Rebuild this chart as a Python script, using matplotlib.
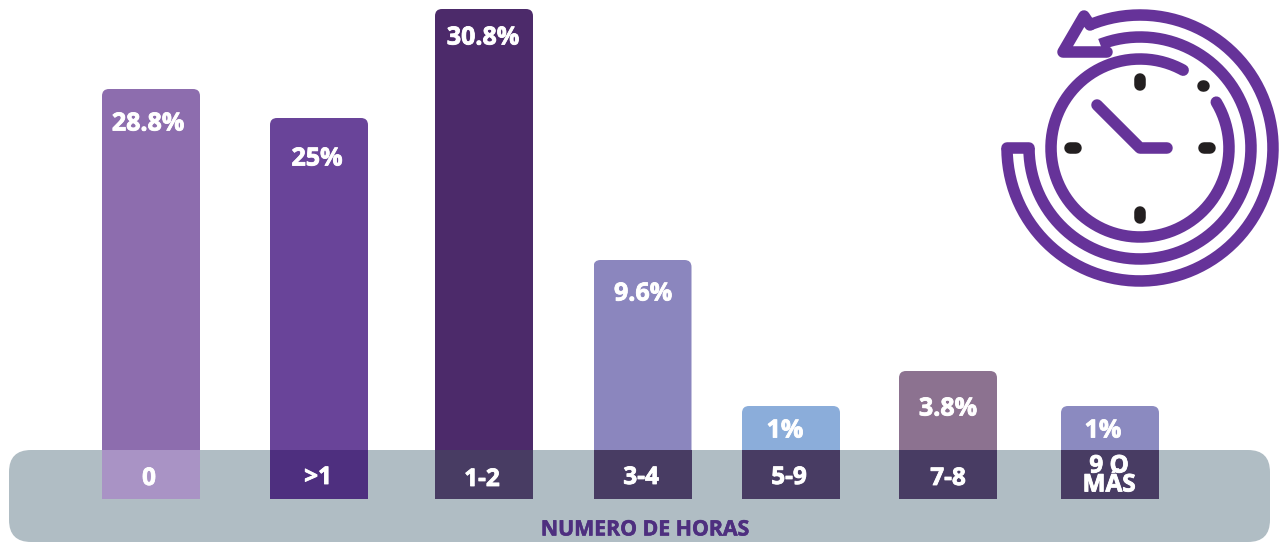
import matplotlib.pyplot as plt
import matplotlib.patheffects as pe
import numpy as np
from matplotlib.patches import FancyBboxPatch

categories = ["0", ">1", "1-2", "3-4", "5-9", "7-8", "9 O\nMÁS"]
value_labels = ["28.8%", "25%", "30.8%", "9.6%", "1%", "3.8%", "1%"]
# bar heights as drawn, they are not proportional to the printed percentages
bar_heights = [410, 381, 490, 239, 93, 128, 93]

# layout, everything below is in image pixels
bar_x = [151, 319, 484, 642.5, 791, 948, 1110]
label_x = [148, 317, 483, 643, 785, 948, 1103]
label_y = [124, 159, 38, 294, 431, 409, 431]
tick_x = [149, 318, 482, 641, 789, 948, 1109]
tick_y = [479, 478, 480, 478, 478, 479, 476]
top_colors = ["#8d6dae", "#694499", "#4c2a6a", "#8b86be", "#8badda", "#8c7290", "#8b8ac0"]
low_colors = ["#a993c5", "#4e2f7f", "#483c63", "#483c63", "#483c63", "#483c63", "#483c63"]
BASE = 499
BAND_TOP = 450
BAR_W = 98
PURPLE = "#663399"
INK = "#231f20"
CX, CY = 1140, 148

plt.rcParams["font.family"] = ["Open Sans", "DejaVu Sans"]

fig = plt.figure(figsize=(12.8, 5.42), dpi=100)
ax = fig.add_axes([0, 0, 1, 1])
ax.set_xlim(0, 1280)
ax.set_ylim(542, 0)
ax.axis("off")

# grey band behind the category labels
band = FancyBboxPatch(
    (31, BAND_TOP + 22), 1217, 48,
    boxstyle="round,pad=22,rounding_size=22",
    facecolor="#b0bdc4", edgecolor="none", zorder=1,
)
ax.add_patch(band)

# Bars, only the top corners are rounded
bars = ax.bar(bar_x, bar_heights, width=BAR_W, bottom=BASE, color=top_colors, zorder=2)
for rect, height in zip(bars, bar_heights):
    # bar() with an inverted axis and positive height would go down, so flip it
    rect.set_y(BASE - height)
    clip = FancyBboxPatch(
        (rect.get_x() + 6, BASE - height + 6), BAR_W - 12, height + 40,
        boxstyle="round,pad=6,rounding_size=7",
        transform=ax.transData, facecolor="none", edgecolor="none",
    )
    rect.set_clip_path(clip)

ax.bar(bar_x, [BASE - BAND_TOP] * 7, width=BAR_W, bottom=BAND_TOP, color=low_colors, zorder=3)

# the installed bold is a bit lighter than the reference, so thicken it
heavy = [pe.withStroke(linewidth=0.6, foreground="white")]
for x, y, text in zip(label_x, label_y, value_labels):
    ax.text(x, y, text, color="white", fontsize=18, fontweight="bold",
            ha="center", va="center", zorder=4, path_effects=heavy)
for x, y, text in zip(tick_x, tick_y, categories):
    ax.text(x, y, text, color="white", fontsize=17.5, fontweight="bold",
            ha="center", va="center", linespacing=0.72, zorder=4, path_effects=heavy)
ax.text(645, 530, "NUMERO DE HORAS", color="#4e2f7f", fontsize=15.3, fontweight="bold",
        ha="center", va="center", zorder=4,
        path_effects=[pe.withStroke(linewidth=0.4, foreground="#4e2f7f")])


def stroke(xs, ys, color=PURPLE, width=8.3, cap="round"):
    ax.plot(xs, ys, color=color, lw=width, solid_capstyle=cap,
            solid_joinstyle="round", zorder=5)


def arc_xy(radius, start, end):
    theta = np.radians(np.linspace(start, end, 200))
    return CX + radius * np.cos(theta), CY - radius * np.sin(theta)


# Clock icon: face, then the two spiral bands of the arrow
stroke(*arc_xy(89, 31, 61 - 360))
stroke(*arc_xy(111, 180, 360 + 111), cap="butt")
stroke(*arc_xy(133, 180, 360 + 112), cap="butt")

# tail that joins the two bands on the left
stroke([1007, 1029], [148, 148])

# arrow head
stroke([1090, 1084, 1063, 1107], [25, 16, 52, 52])

# hands
stroke([1097, 1140, 1167], [105, 148, 148])

# hour marks
for xs, ys in [
    ([1140, 1140], [79, 85]),
    ([1140, 1140], [212, 218]),
    ([1070, 1076], [148, 148]),
    ([1204, 1210], [148, 148]),
    ([1202.5, 1203.5], [85.5, 85.5]),
]:
    stroke(xs, ys, color=INK)

fig.savefig("out.png", dpi=100)
plt.close(fig)
